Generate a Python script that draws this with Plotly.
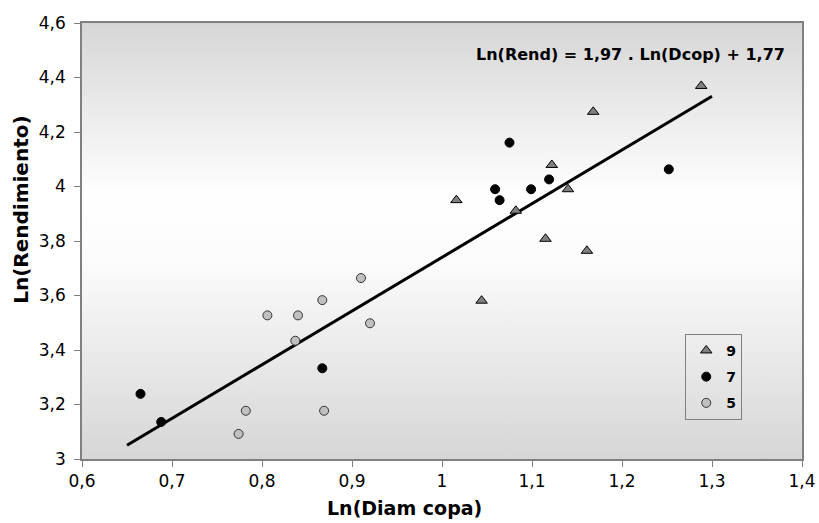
import plotly.graph_objects as go

# ---- data ----
x9 = [1.288, 1.168, 1.122, 1.016, 1.140, 1.082, 1.115, 1.161, 1.044]
y9 = [4.369, 4.274, 4.079, 3.950, 3.990, 3.911, 3.808, 3.764, 3.581]

x7 = [1.075, 1.059, 1.064, 1.099, 1.119, 1.252, 0.665, 0.688, 0.867]
y7 = [4.161, 3.990, 3.950, 3.990, 4.026, 4.063, 3.239, 3.136, 3.333]

x5 = [0.910, 0.867, 0.806, 0.840, 0.920, 0.837, 0.782, 0.869, 0.774]
y5 = [3.664, 3.583, 3.527, 3.527, 3.498, 3.434, 3.177, 3.177, 3.092]

slope = 1.97
intercept = 1.77
fit_x = [0.65, 1.30]
fit_y = [slope * v + intercept for v in fit_x]

x_range = [0.6, 1.4]
y_range = [3.0, 4.6]

FONT = "DejaVu Sans, Arial, sans-serif"

fig = go.Figure()

# background gradient of plot area
fig.add_trace(go.Scatter(
    x=[x_range[0], x_range[1], x_range[1], x_range[0], x_range[0]],
    y=[y_range[0], y_range[0], y_range[1], y_range[1], y_range[0]],
    mode="none", fill="toself",
    fillgradient=dict(type="vertical", start=y_range[0], stop=y_range[1],
                      colorscale=[[0, "#d6d6d6"], [0.45, "#fbfbfb"], [0.6, "#ffffff"], [1, "#d6d6d6"]]),
    showlegend=False, hoverinfo="skip",
))

fig.add_trace(go.Scatter(
    x=fit_x, y=fit_y, mode="lines", line=dict(color="black", width=3),
    showlegend=False, hoverinfo="skip",
))

fig.add_trace(go.Scatter(
    x=x9, y=y9, mode="markers", name="<b>9</b>", legendgroup="a",
    marker=dict(symbol="triangle-up", size=10, color="#808080", line=dict(color="black", width=1)),
))
fig.add_trace(go.Scatter(
    x=x7, y=y7, mode="markers", name="<b>7</b>", legendgroup="b",
    marker=dict(symbol="circle", size=9, color="black", line=dict(color="black", width=1)),
))
fig.add_trace(go.Scatter(
    x=x5, y=y5, mode="markers", name="<b>5</b>", legendgroup="c",
    marker=dict(symbol="circle", size=9, color="#c0c0c0", line=dict(color="#333333", width=1)),
))

axis_common = dict(
    showgrid=False, zeroline=False, showline=True, linecolor="#808080", linewidth=1.5,
    mirror=True, ticks="outside", ticklen=6, tickcolor="#808080", automargin=False,
    tickfont=dict(family=FONT, size=17, color="black"),
)

fig.update_xaxes(range=x_range, dtick=0.1, tick0=0.6, **axis_common)
fig.update_yaxes(range=y_range, dtick=0.2, tick0=3.0, ticklabelstandoff=5, **axis_common)

fig.add_annotation(
    text="<b>Ln(Diam copa)</b>", xref="paper", yref="paper", x=0.448, y=-0.113,
    xanchor="center", yanchor="middle", showarrow=False,
    font=dict(family=FONT, size=19, color="black"),
)
fig.add_annotation(
    text="<b>Ln(Rendimiento)</b>", xref="paper", yref="paper", x=-0.085, y=0.571,
    xanchor="center", yanchor="middle", showarrow=False, textangle=-90,
    font=dict(family=FONT, size=20, color="black"),
)
fig.add_annotation(
    text="<b>Ln(Rend) = 1,97 . Ln(Dcop) + 1,77</b>", xref="paper", yref="paper",
    x=0.979, y=0.927, xanchor="right", yanchor="middle", showarrow=False,
    font=dict(family=FONT, size=16, color="black"),
)

fig.update_layout(
    width=819, height=523,
    margin=dict(l=82, r=17, t=23, b=64),
    paper_bgcolor="white", plot_bgcolor="white",
    separators=", ",
    font=dict(family=FONT, color="black"),
    showlegend=True,
    legend=dict(
        x=0.917, y=0.287, xanchor="right", yanchor="top",
        bgcolor="rgba(0,0,0,0)", bordercolor="#808080", borderwidth=1,
        font=dict(family=FONT, size=14, color="black"),
        tracegroupgap=5, itemwidth=30,
    ),
    hovermode=False,
)

fig.write_html("out.html")
